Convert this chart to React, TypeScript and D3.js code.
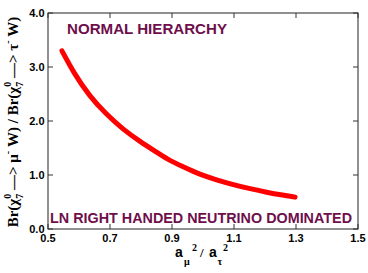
import React from "react";
import * as d3 from "d3";

const xTicks = [0.5, 0.7, 0.9, 1.1, 1.3, 1.5];
const yTicks = [0, 1, 2, 3, 4];
const xTickLabels = ["0.5", "0.7", "0.9", "1.1", "1.3", "1.5"];
const yTickLabels = ["0.0", "1.0", "2.0", "3.0", "4.0"];

const ratioX = [0.545, 0.582, 0.635, 0.689, 0.743, 0.797, 0.851, 0.883, 0.936, 0.99, 1.044, 1.098, 1.152, 1.205, 1.259, 1.297];
const ratioY = [3.3, 2.9, 2.45, 2.12, 1.84, 1.62, 1.42, 1.3, 1.15, 1.01, 0.91, 0.82, 0.745, 0.68, 0.625, 0.59];

const W = 368;
const H = 273;
const L = 48, R = 358, T = 13, B = 229;

export default function App() {
  const x = d3.scaleLinear().domain([0.5, 1.5]).range([L, R]);
  const y = d3.scaleLinear().domain([0, 4]).range([B, T]);
  const pts = ratioX.map((v, i) => [v, ratioY[i]] as [number, number]);
  const line = d3
    .line<[number, number]>()
    .x((d) => x(d[0]))
    .y((d) => y(d[1]))
    .curve(d3.curveBasis);
  const purple = "#6e0f4c";
  const sans = "'Liberation Sans', Arial, Helvetica, sans-serif";
  const serif = "'Liberation Serif', 'Times New Roman', serif";
  return (
    <svg
      width={W}
      height={H}
      style={{ position: "absolute", left: 0, top: 0, background: "#fff" }}
    >
      <rect x={0} y={0} width={W} height={H} fill="#fff" />
      {/* curve */}
      <path
        d={line(pts) || ""}
        fill="none"
        stroke="#ff0000"
        strokeWidth={5}
        strokeLinecap="round"
        strokeLinejoin="round"
      />
      {/* frame */}
      <rect x={L} y={T} width={R - L} height={B - T} fill="none" stroke="#222" strokeWidth={1} />
      {/* x ticks */}
      {xTicks.map((t, i) => (
        <g key={"x" + i}>
          <line x1={x(t)} x2={x(t)} y1={B} y2={B - 5} stroke="#333" />
          <line x1={x(t)} x2={x(t)} y1={T} y2={T + 5} stroke="#333" />
          <text
            x={x(t)}
            y={241.5}
            textAnchor="middle"
            fontFamily={sans}
            fontWeight="bold"
            fontSize={11}
            fill="#000"
          >
            {xTickLabels[i]}
          </text>
        </g>
      ))}
      {/* y ticks */}
      {yTicks.map((t, i) => (
        <g key={"y" + i}>
          <line x1={L} x2={L + 5} y1={y(t)} y2={y(t)} stroke="#333" />
          <line x1={R} x2={R - 5} y1={y(t)} y2={y(t)} stroke="#333" />
          <text
            x={44.5}
            y={y(t) + 4}
            textAnchor="end"
            fontFamily={sans}
            fontWeight="bold"
            fontSize={11}
            fill="#000"
          >
            {yTickLabels[i]}
          </text>
        </g>
      ))}
      {/* annotations */}
      <text
        x={67}
        y={34.3}
        fontFamily={sans}
        fontWeight="bold"
        fontSize={15}
        fill={purple}
        textLength={160}
        lengthAdjust="spacingAndGlyphs"
      >
        NORMAL HIERARCHY
      </text>
      <text
        x={50}
        y={223.3}
        fontFamily={sans}
        fontWeight="bold"
        fontSize={15}
        fill={purple}
        textLength={302}
        lengthAdjust="spacingAndGlyphs"
      >
        LN RIGHT HANDED NEUTRINO DOMINATED
      </text>
      {/* x title */}
      <g fill="#000">
        <text x={175} y={257} fontFamily={sans} fontWeight="bold" fontSize={14}>a</text>
        <text x={184} y={265} fontFamily={serif} fontWeight="bold" fontSize={10}>μ</text>
        <text x={192} y={251} fontFamily={serif} fontWeight="bold" fontSize={10}>2</text>
        <text x={200} y={257} fontFamily={serif} fontWeight="bold" fontSize={13}>/</text>
        <text x={209} y={257} fontFamily={sans} fontWeight="bold" fontSize={14}>a</text>
        <text x={217.5} y={265} fontFamily={serif} fontWeight="bold" fontSize={10}>τ</text>
        <text x={223} y={251} fontFamily={serif} fontWeight="bold" fontSize={10}>2</text>
      </g>
      {/* y title */}
      <text
        transform="translate(18,122) rotate(-90)"
        textAnchor="middle"
        fontFamily={serif}
        fontWeight="bold"
        fontSize={15}
        fill="#000"
      >
        <tspan>Br(χ</tspan>
        <tspan fontSize={10} dy={-7}>0</tspan>
        <tspan fontSize={10} dx={-5} dy={12}>7</tspan>
        <tspan dy={-5}> {"\u2014>"} μ</tspan>
        <tspan fontSize={10} dy={-7}>-</tspan>
        <tspan dy={7}> W) / Br(χ</tspan>
        <tspan fontSize={10} dy={-7}>0</tspan>
        <tspan fontSize={10} dx={-5} dy={12}>7</tspan>
        <tspan dy={-5}> {"\u2014>"} τ</tspan>
        <tspan fontSize={10} dy={-7}>-</tspan>
        <tspan dy={7}> W)</tspan>
      </text>
    </svg>
  );
}
